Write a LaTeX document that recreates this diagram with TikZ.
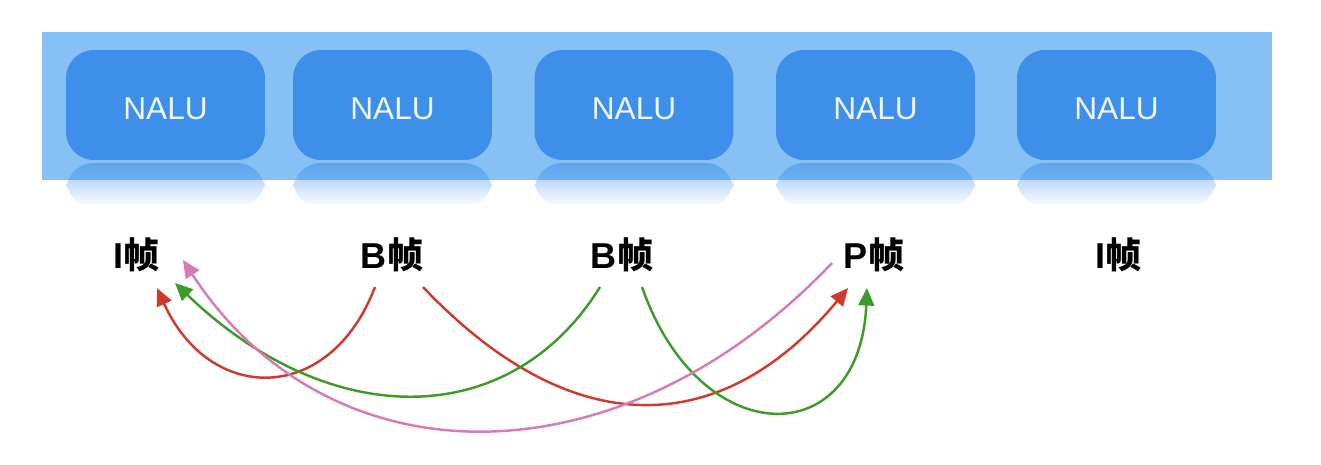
\documentclass[tikz,border=0pt]{standalone}
\usepackage{fontspec}
\setmainfont{Liberation Sans}
\newfontfamily\cjk{Noto Sans CJK SC}
\usetikzlibrary{arrows.meta,calc,fadings}
\definecolor{bandblue}{HTML}{87C0F4}
\definecolor{boxblue}{HTML}{3E8FEA}
\definecolor{naluwhite}{HTML}{EEF7FF}
\definecolor{arred}{HTML}{CF3A2C}
\definecolor{argreen}{HTML}{3E9B2A}
\definecolor{arpink}{HTML}{D97BB3}
\tikzfading[name=fadedown, top color=transparent!0, bottom color=transparent!100]
\newcommand{\frm}[1]{{\bfseries #1}{\cjk\bfseries 帧}}
\tikzset{
  nalu/.style={fill=boxblue, rounded corners=0.56cm, minimum width=3.98cm, minimum height=2.2cm,
    text=naluwhite, font=\fontsize{18}{20}\selectfont, inner sep=0pt, text height=16.5pt, text depth=0pt},
  refl/.style={fill=boxblue, opacity=0.55, path fading=fadedown},
  frame/.style={font=\fontsize{20.5}{22}\selectfont, text=black, inner sep=0pt},
  link/.style={line width=1.4pt, -{Triangle[length=10pt,width=9pt]}},
}
\begin{document}
\begin{tikzpicture}[x=0.02cm,y=-0.02cm]
\useasboundingbox (0,0) rectangle (1321,464);
\fill[bandblue] (42,32) rectangle (1272,180);
\foreach \cx/\nm in {165.5/n1,392.5/n2,634/n3,875.5/n4,1116.5/n5}{
  \fill[refl, rounded corners=0.56cm] (\cx-99.5,163) rectangle (\cx+99.5,207);
  \node[nalu] (\nm) at (\cx,105) {NALU};
}
\node[frame] (I1) at (137,255) {\frm{I}};
\node[frame] (B1) at (392,255) {\frm{B}};
\node[frame] (B2) at (622,255) {\frm{B}};
\node[frame] (P)  at (874,255) {\frm{P}};
\node[frame] (I2) at (1118,255) {\frm{I}};
% arrows
\draw[link, arred] ($(B1.center)+(-17,32)$) .. controls (330,405) and (210,405) .. ($(I1.center)+(20,33)$);
\draw[link, arred] ($(B1.center)+(31,32)$) .. controls (570,442) and (720,442) .. ($(P.center)+(-26,33)$);
\draw[link, argreen] ($(B2.center)+(-22,32)$) .. controls (510,432) and (330,432) .. ($(I1.center)+(38,28)$);
\draw[link, argreen] ($(B2.center)+(20,32)$) .. controls (700,453) and (860,453) .. ($(P.center)+(-7,33)$);
\draw[link, arpink] ($(P.center)+(-42,8)$) .. controls (620,486) and (330,486) .. ($(I1.center)+(46,5)$);
\end{tikzpicture}
\end{document}
